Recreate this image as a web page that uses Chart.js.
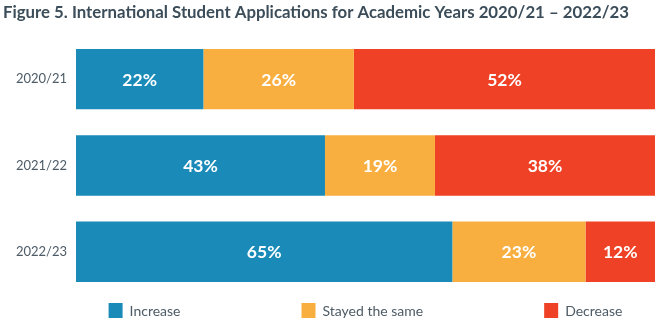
<!DOCTYPE html>
<html>
<head>
<meta charset="utf-8">
<script src="https://cdn.jsdelivr.net/npm/chart.js@4"></script>
<style>
  html, body { margin: 0; padding: 0; background: #fff; }
  #wrap { width: 662px; height: 336px; }
</style>
</head>
<body>
<div id="wrap"><canvas id="appsChart"></canvas></div>
<script>
const years = ['2020/21', '2021/22', '2022/23'];
const increase = [22, 43, 65];
const stayedSame = [26, 19, 23];
const decrease = [52, 38, 12];

const seriesNames = ['Increase', 'Stayed the same', 'Decrease'];
const seriesColors = ['#1a8bb8', '#f9af3f', '#ef4125'];

const textColor = '#4d5b66';

// white percentage labels in the middle of each segment
const barLabels = {
    id: 'barLabels',
    afterDatasetsDraw(chart) {
        const ctx = chart.ctx;
        ctx.save();
        ctx.font = 'bold 17.5px Lato';
        ctx.fillStyle = '#ffffff';
        ctx.textAlign = 'center';
        ctx.textBaseline = 'middle';
        chart.data.datasets.forEach((ds, i) => {
            chart.getDatasetMeta(i).data.forEach((bar, j) => {
                ctx.fillText(ds.data[j] + '%', (bar.x + bar.base) / 2, bar.y + 1);
            });
        });
        ctx.restore();
    }
};

// legend spread wide under the plot area (built-in legend padding also grows its height)
const bottomLegend = {
    id: 'bottomLegend',
    afterDraw(chart) {
        const {ctx, chartArea} = chart;
        const gap = 121, boxW = 14, boxH = 15, textGap = 7;
        ctx.save();
        ctx.font = '14px Lato';
        const items = chart.data.datasets.map(ds => ({
            label: ds.label,
            color: ds.backgroundColor,
            w: boxW + textGap + ctx.measureText(ds.label).width
        }));
        const total = items.reduce((s, it) => s + it.w, 0) + gap * (items.length - 1);
        let x = (chartArea.left + chartArea.right) / 2 - total / 2;
        const y = chartArea.bottom + 15.5;
        ctx.textBaseline = 'middle';
        ctx.textAlign = 'left';
        items.forEach(it => {
            ctx.fillStyle = it.color;
            ctx.fillRect(x, y - boxH / 2, boxW, boxH);
            ctx.fillStyle = textColor;
            ctx.fillText(it.label, x + boxW + textGap, y + 1);
            x += it.w + gap;
        });
        ctx.restore();
    }
};

const ctx = document.getElementById('appsChart').getContext('2d');
new Chart(ctx, {
    type: 'bar',
    data: {
        labels: years,
        datasets: [
            { label: seriesNames[0], data: increase, backgroundColor: seriesColors[0] },
            { label: seriesNames[1], data: stayedSame, backgroundColor: seriesColors[1] },
            { label: seriesNames[2], data: decrease, backgroundColor: seriesColors[2] }
        ]
    },
    options: {
        indexAxis: 'y',
        responsive: true,
        maintainAspectRatio: false,
        animation: false,
        layout: { padding: { left: 3, right: 7, top: 0, bottom: 41 } },
        datasets: {
            bar: { barPercentage: 0.7, categoryPercentage: 1, borderWidth: 0 }
        },
        scales: {
            x: { stacked: true, min: 0, max: 100, display: false },
            y: {
                stacked: true,
                grid: { display: false, drawTicks: false },
                border: { display: false },
                ticks: {
                    padding: 9,
                    color: textColor,
                    font: { family: 'Lato', size: 13 }
                },
                afterFit: scale => { scale.width = 73; }
            }
        },
        plugins: {
            legend: { display: false },
            tooltip: { enabled: false },
            title: {
                display: true,
                text: 'Figure 5. International Student Applications for Academic Years 2020/21 \u2013 2022/23',
                align: 'start',
                color: '#3c4d5a',
                font: { family: 'Lato', size: 16.8, weight: 'bold' },
                padding: { top: 3, bottom: 12.8 }
            }
        }
    },
    plugins: [barLabels, bottomLegend]
});
</script>
</body>
</html>
